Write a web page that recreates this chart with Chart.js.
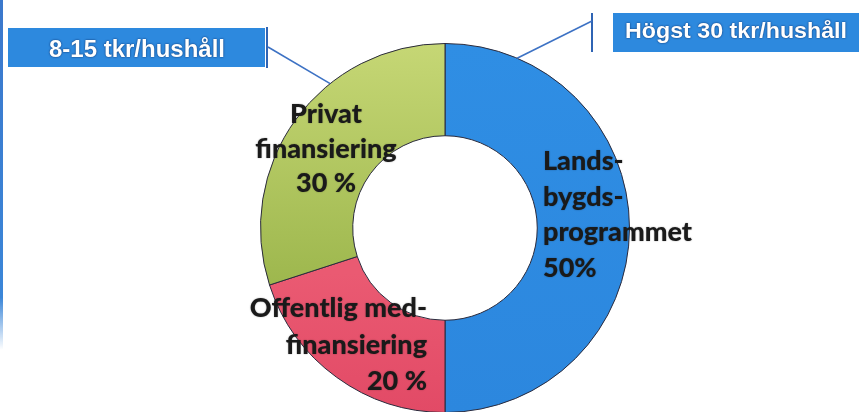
<html>
<head>
<meta charset="utf-8">
<style>
  html, body { margin: 0; padding: 0; background: #fff; overflow: hidden; }
  #wrap { width: 859px; height: 412px; overflow: hidden; }
  canvas { display: block; }
</style>
</head>
<body>
<div id="wrap">
  <canvas id="ring" width="859" height="430"></canvas>
</div>
<script src="https://cdn.jsdelivr.net/npm/chart.js@4/dist/chart.umd.min.js"></script>
<script>
// financing shares, clockwise from the top
var categories = ['Landsbygdsprogrammet', 'Offentlig medfinansiering', 'Privat finansiering'];
var shares = [50, 20, 30];
var sliceLines = [['Lands-', 'bygds-', 'programmet'], ['Offentlig med-', 'finansiering'], ['Privat', 'finansiering']];
var pctSuffix = ['%', ' %', ' %'];
var sliceColors = ['#2e8be2', '#e7506b', '#aec55a'];
var callouts = ['Högst 30 tkr/hushåll', '8-15 tkr/hushåll'];

function sliceFill(ctx) {
  var i = ctx.dataIndex;
  var area = ctx.chart.chartArea;
  if (!area) return sliceColors[i];
  var c = ctx.chart.ctx;
  var g;
  if (i === 2) {
    g = c.createLinearGradient(0, area.top, 0, area.top + 250);
    g.addColorStop(0, '#c6d775');
    g.addColorStop(1, '#9cb64c');
    return g;
  }
  if (i === 1) {
    g = c.createLinearGradient(0, area.top + 230, 0, area.bottom);
    g.addColorStop(0, '#ea5a72');
    g.addColorStop(1, '#e24a66');
    return g;
  }
  g = c.createLinearGradient(0, area.top, 0, area.bottom);
  g.addColorStop(0, '#2f8ee4');
  g.addColorStop(1, '#2c87de');
  return g;
}

// text inside the ring + the two blue callout boxes
var annotate = {
  id: 'annotate',
  afterDraw: function (chart) {
    var ctx = chart.ctx;
    var arc = chart.getDatasetMeta(0).data[0];
    var cx = arc.x, cy = arc.y, R = arc.outerRadius;

    // slice labels, offsets from the ring centre
    var pos = [
      { dx: 98, dy: -58, align: 'left', lh: 35.5 },
      { dx: -18, dy: 89, align: 'right', lh: 36.5 },
      { dx: -119, dy: -105, align: 'center', lh: 34.5 }
    ];
    ctx.save();
    ctx.font = '900 27px Lato, "Open Sans", sans-serif';
    ctx.fillStyle = '#1a1a1a';
    ctx.textBaseline = 'alphabetic';
    ctx.shadowColor = 'rgba(0,0,0,0.4)';
    ctx.shadowBlur = 1.5;
    for (var i = 0; i < shares.length; i++) {
      var lines = sliceLines[i].concat([shares[i] + pctSuffix[i]]);
      ctx.textAlign = pos[i].align;
      for (var k = 0; k < lines.length; k++) {
        ctx.fillText(lines[k], cx + pos[i].dx, cy + pos[i].dy + k * pos[i].lh);
      }
    }
    ctx.restore();

    function ringPoint(deg) {
      var a = deg * Math.PI / 180;
      return { x: cx + R * Math.sin(a), y: cy - R * Math.cos(a) };
    }

    // o: box rect, text centre/width/baseline/size, side bar, connector
    function box(text, o) {
      ctx.save();
      ctx.fillStyle = '#2d89de';
      ctx.fillRect(o.x, o.y, o.w, o.h);
      ctx.strokeStyle = '#2f64b4';
      ctx.lineWidth = 2;
      ctx.beginPath();
      ctx.moveTo(o.barX, o.barTop);
      ctx.lineTo(o.barX, o.barBot);
      ctx.stroke();
      var p = ringPoint(o.toDeg);
      ctx.lineWidth = 1.6;
      ctx.strokeStyle = '#3d72c4';
      ctx.beginPath();
      ctx.moveTo(o.from[0], o.from[1]);
      ctx.lineTo(p.x, p.y);
      ctx.stroke();

      ctx.font = 'bold ' + o.size + 'px "Liberation Sans Narrow", "Liberation Sans", Arial, sans-serif';
      var m = ctx.measureText(text).width;
      ctx.translate(o.tx, o.base);
      ctx.scale(o.tw / m, 1);
      ctx.textAlign = 'center';
      ctx.shadowColor = 'rgba(0,20,70,0.85)';
      ctx.shadowBlur = 2;
      ctx.fillStyle = '#ffffff';
      ctx.fillText(text, 0, 0);
      ctx.restore();
    }

    box(callouts[0], { x: 613, y: 13, w: 246, h: 39, tx: 736, tw: 222, base: 38, size: 22,
      barX: 592, barTop: 13, barBot: 52, from: [592, 21], toDeg: 23 });
    box(callouts[1], { x: 8, y: 28, w: 257, h: 39, tx: 137, tw: 176, base: 57, size: 24,
      barX: 267, barTop: 27, barBot: 68, from: [268, 47], toDeg: 321.5 });

    // thin blue rule on the left edge
    ctx.save();
    var g = ctx.createLinearGradient(0, 0, 0, 350);
    g.addColorStop(0, '#3b78cc');
    g.addColorStop(0.85, '#3b86d8');
    g.addColorStop(1, 'rgba(59,134,216,0)');
    ctx.fillStyle = g;
    ctx.fillRect(0, 0, 3, 350);
    ctx.restore();
  }
};

new Chart(document.getElementById('ring'), {
  type: 'doughnut',
  data: {
    labels: categories,
    datasets: [{
      data: shares,
      backgroundColor: sliceFill,
      borderColor: '#2a2a3c',
      borderWidth: 1
    }]
  },
  options: {
    responsive: false,
    animation: false,
    cutout: '50%',
    rotation: 0,
    layout: { padding: { top: 43, bottom: 17, left: 60, right: 29 } },
    plugins: {
      legend: { display: false },
      tooltip: { enabled: false }
    }
  },
  plugins: [annotate]
});
</script>
</body>
</html>
